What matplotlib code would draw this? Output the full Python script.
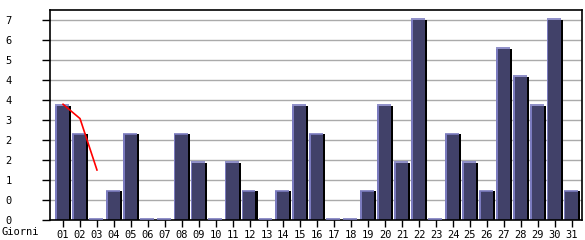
import matplotlib
matplotlib.use("Agg")
import matplotlib.pyplot as plt
import matplotlib.transforms as mtransforms
import numpy as np

days = [f"{d:02d}" for d in range(1, 32)]
values = [4, 3, 0, 1, 3, 0, 0, 3, 2, 0, 2, 1, 0, 1, 4, 3, 0, 0, 1, 4, 2, 7, 0, 3, 2, 1, 6, 5, 4, 7, 1]
trend_days = [1, 2, 3]
trend_values = [4.05, 3.55, 1.75]
ymax = 7
yticks = [round(i * ymax / 10, 2) for i in range(11)]
ytick_labels = [str(int(t)) for t in yticks]
xlabel = "Giorni"

FACE = "#414169"
LIGHT = "#7b7bbf"
SHADOW = "#000000"
GRID = "#aaaaaa"

plt.rcParams['font.family'] = ['DejaVu Sans Mono']
fig = plt.figure(figsize=(5.85, 2.40), dpi=100)
ax = fig.add_axes([50/585, 20/240, 531.7/585, 210/240])

x = np.arange(1, len(values) + 1)
v = np.array(values, dtype=float)

ax.set_xlim(0.23, 31.59)
ax.set_ylim(0, 7.35)

for t in yticks[1:]:
    ax.axhline(t, color=GRID, lw=1.0, zorder=1)

# shadow
ax.bar(x - 0.47, v, width=0.94, align='edge', color=SHADOW, lw=0, zorder=2)
# face
ax.bar(x - 0.47, v, width=0.82, align='edge', color=FACE, lw=0, zorder=3)
# left highlight
ax.bar(x - 0.47, v, width=0.1, align='edge', color=LIGHT, lw=0, zorder=4)
# top highlight (offset up slightly so zero bars show)
up = mtransforms.offset_copy(ax.transData, fig=fig, x=0, y=0.5, units='points')
for xi, vi in zip(x, v):
    ax.plot([xi - 0.47, xi + 0.35], [vi, vi], color=LIGHT, lw=1.2,
            solid_capstyle='butt', transform=up, zorder=6, clip_on=False)

ax.plot(trend_days, trend_values, color="#ff0000", lw=1.2, zorder=7)

ax.set_xticks(x)
ax.set_xticklabels(days, fontsize=7.5)
ax.set_yticks(yticks)
ax.set_yticklabels(ytick_labels, fontsize=7.5)
ax.tick_params(axis='x', length=5, width=1, pad=2, colors='black')
ax.tick_params(axis='y', length=6, width=1, pad=26, colors='black')
for lbl in ax.get_yticklabels():
    lbl.set_horizontalalignment('left')
for s in ax.spines.values():
    s.set_color('black')
    s.set_linewidth(1.2)
    s.set_zorder(5)

fig.text(2/585, 1 - 232/240, xlabel, fontsize=7.5, ha='left', va='center')

fig.savefig("out.png", dpi=100)
